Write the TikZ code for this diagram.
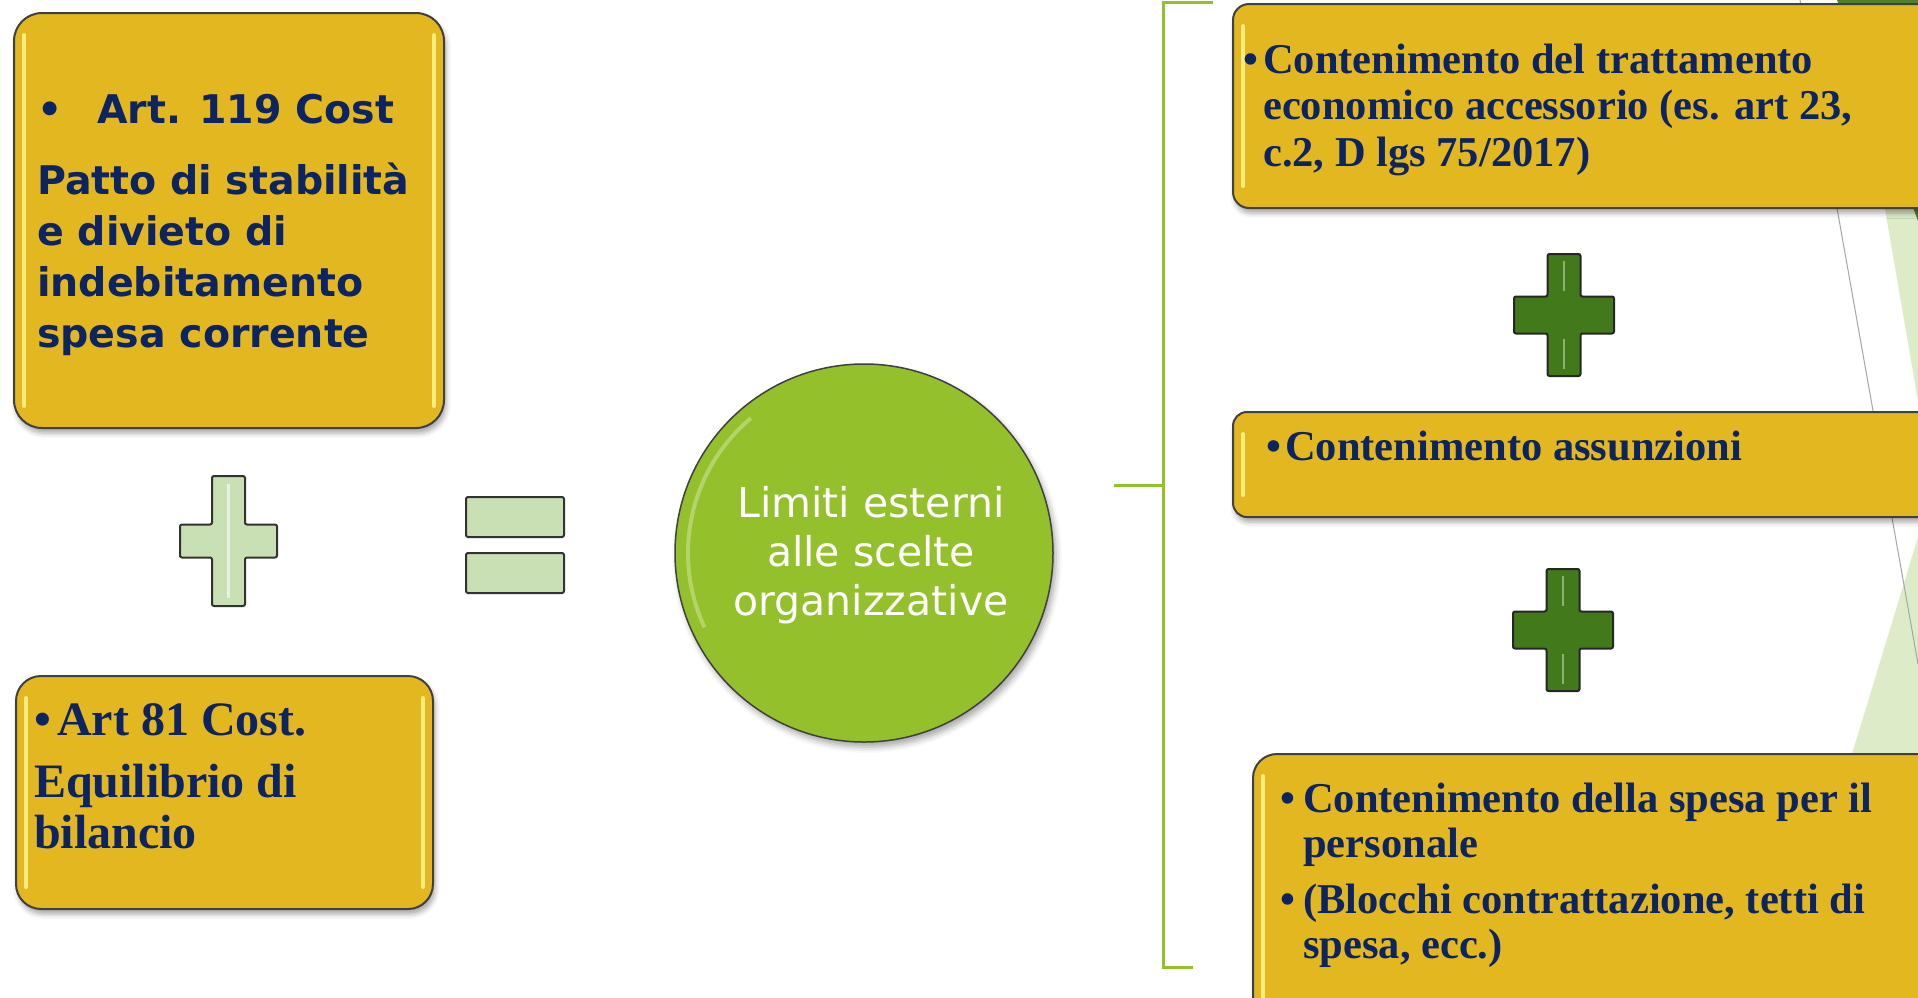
\documentclass[tikz,border=0pt]{standalone}
\usepackage{fontspec}
\usetikzlibrary{positioning,shadows.blur}

\newfontfamily\dejavu{DejaVu Sans}
\newfontfamily\romanfont{Liberation Serif}

\definecolor{boxyellow}{HTML}{E2B720}
\definecolor{navy}{HTML}{0C2461}
\definecolor{leafgreen}{HTML}{93C02B}
\definecolor{palegreen}{HTML}{C9DFB4}
\definecolor{darkgreen}{HTML}{427A1B}
\definecolor{bggreen}{HTML}{DDEBC8}
\definecolor{bgdark}{HTML}{4E7F2C}
\definecolor{shine}{HTML}{F9EC7E}

\tikzset{
    ybox/.style={draw=black!75, line width=2pt, fill=boxyellow, rounded corners=#1,
        anchor=north west, inner sep=0pt,
        blur shadow={shadow xshift=2pt, shadow yshift=-5pt, shadow blur radius=5pt, shadow opacity=35},
        path picture={
            \draw[line width=4pt, line cap=round, shine] ([xshift=10pt,yshift=-22pt]path picture bounding box.north west) -- ([xshift=10pt,yshift=22pt]path picture bounding box.south west);
            \draw[line width=4pt, line cap=round, shine] ([xshift=-10pt,yshift=-22pt]path picture bounding box.north east) -- ([xshift=-10pt,yshift=22pt]path picture bounding box.south east);
        }},
    ybox/.default=15pt,
    % anchor base = baseline of the last line
    lefttext/.style={anchor=base west, align=left, inner sep=0pt, text=navy, font=\dejavu\bfseries\fontsize{39.5}{51}\selectfont},
    boxtext/.style={anchor=base west, align=left, inner sep=0pt, text=navy, font=\romanfont\bfseries\fontsize{42.5}{#1}\selectfont},
    boxtext/.default=46.5,
    circtext/.style={anchor=base, align=center, inner sep=0pt, text=white, font=\dejavu\fontsize{41}{49}\selectfont},
    lightplus/.style={draw=black!80, line width=2pt, fill=palegreen, rounded corners=2pt},
    darkplus/.style={draw=black!85, line width=2pt, fill=darkgreen, rounded corners=2pt},
    bracket/.style={draw=leafgreen, line width=3pt}
}

% cross: style, cx, cy, half width, half height, half vertical bar, half horizontal bar
\newcommand{\crossmark}[7]{%
    \draw[#1] ({#2-#6},{#3-#5}) -- ({#2+#6},{#3-#5}) -- ({#2+#6},{#3-#7}) -- ({#2+#4},{#3-#7})
        -- ({#2+#4},{#3+#7}) -- ({#2+#6},{#3+#7}) -- ({#2+#6},{#3+#5}) -- ({#2-#6},{#3+#5})
        -- ({#2-#6},{#3+#7}) -- ({#2-#4},{#3+#7}) -- ({#2-#4},{#3-#7}) -- ({#2-#6},{#3-#7}) -- cycle;
}

\begin{document}
\begin{tikzpicture}[x=1pt,y=-1pt]
    \useasboundingbox (0,0) rectangle (1918,997);
    \clip (0,0) rectangle (1918,997);

    % background corner
    \fill[bggreen] (1849,0) -- (1918,401) -- (1918,0) -- cycle;
    \fill[bgdark] (1837,0) -- (1918,221) -- (1918,0) -- cycle;
    \fill[bggreen] (1918,537) -- (1838,800) -- (1918,800) -- cycle;
    \draw[black!35, line width=1pt] (1800,0) -- (1918,664);

    % left side
    \node[ybox=28pt, minimum width=430pt, minimum height=415pt] (b1) at (13,12) {};
    \node[lefttext] (t1) at (37,347) {{\fontsize{39.5}{51}\selectfont\makebox[60pt][l]{\textbullet}Art. 119 Cost}\\[20pt]
        Patto di stabilità\\ e divieto di\\ indebitamento\\ spesa corrente};

    \node[ybox=25pt, minimum width=417pt, minimum height=233pt] (b2) at (15,675) {};
    \node[boxtext=51, font=\romanfont\bfseries\fontsize{48}{51}\selectfont] (t2) at (34,848) {\makebox[23pt][l]{\textbullet}Art 81 Cost.\\[11pt] Equilibrio di\\ bilancio};

    \crossmark{lightplus}{228.5}{541}{48.5}{65}{16.5}{16.5}
    \draw[white, opacity=0.6, line width=3pt] (228.5,484) -- (228.5,598);
    \foreach \ey in {497,553}
        \draw[lightplus] (466,\ey) rectangle (564,{\ey+40});

    % centre
    \node[circle, minimum size=378pt, inner sep=0pt, fill=leafgreen, draw=black!75, line width=1.5pt,
        blur shadow={shadow xshift=3pt, shadow yshift=-5pt, shadow blur radius=6pt, shadow opacity=35}] (goal) at (864,553) {};
    \draw[white, opacity=0.3, line width=4pt] (goal.center) ++(130:176pt) arc[start angle=130, end angle=205, radius=176pt];
    \node[circtext] (lim) at (871,615) {Limiti esterni\\ alle scelte\\ organizzative};

    % bracket
    \coordinate (brtop) at (1213,2);
    \coordinate (brbot) at (1193,967);
    \coordinate (brtick) at (1114,485);
    \draw[bracket] (brtop) -- (1163,2) -- (1163,967) -- (brbot);
    \draw[bracket] (brtick) -- (1163,485);

    % right side
    \node[ybox=16pt, minimum width=740pt, minimum height=204pt] (ba) at (1232,3) {};
    \node[boxtext] (ta) at (1243,166) {\makebox[20pt][l]{\textbullet}Contenimento del trattamento\\
        \hspace*{20pt}economico accessorio (es. art 23,\\ \hspace*{20pt}c.2, D lgs 75/2017)};

    \foreach \cx/\cy in {1564/315, 1563/630} {
        \crossmark{darkplus}{\cx}{\cy}{50}{61}{16.5}{18.5}
        \draw[darkgreen!60!white, line width=2pt] (\cx,{\cy-54}) -- (\cx,{\cy-24}) (\cx,{\cy+24}) -- (\cx,{\cy+54});
    }

    \node[ybox=14pt, minimum width=740pt, minimum height=105pt] (bb) at (1232,411) {};
    \node[boxtext] (tb) at (1266,460) {\makebox[19pt][l]{\textbullet}Contenimento assunzioni};

    \node[ybox=24pt, minimum width=720pt, minimum height=300pt] (bc) at (1252,753) {};
    \node[boxtext=45] (tc) at (1280,958) {\makebox[23pt][l]{\textbullet}Contenimento della spesa per il\\
        \hspace*{23pt}personale\\[11pt] \makebox[23pt][l]{\textbullet}(Blocchi contrattazione, tetti di\\
        \hspace*{23pt}spesa, ecc.)};
\end{tikzpicture}
\end{document}
